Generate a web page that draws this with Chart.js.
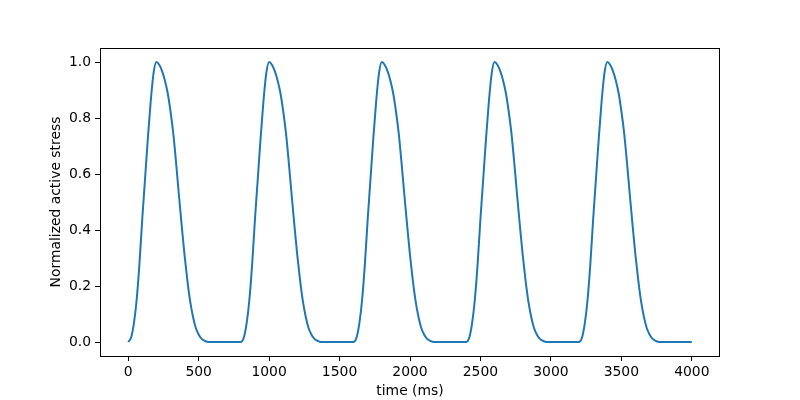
<!DOCTYPE html>
<html>
<head>
<meta charset="utf-8">
<script src="https://cdn.jsdelivr.net/npm/chart.js@4/dist/chart.umd.min.js"></script>
<style>
  html, body { margin: 0; padding: 0; background: #fff; }
  #c { display: block; }
</style>
</head>
<body>
<canvas id="c" width="800" height="400"></canvas>
<script>
// Sample spacing of the readings (ms)
const timeStepMs = 20;

// Normalized active stress, one array per beat (800 ms each, 20 ms apart)
const beat1 = [0.000,0.015,0.065,0.150,0.280,0.440,0.585,0.730,0.860,0.960,1.000,0.990,0.968,0.935,0.890,0.825,0.745,0.640,0.525,0.415,
               0.310,0.220,0.145,0.090,0.050,0.027,0.012,0.005,0.001,0.000,0.000,0.000,0.000,0.000,0.000,0.000,0.000,0.000,0.000,0.000];
const beat2 = [0.000,0.015,0.065,0.150,0.280,0.440,0.585,0.730,0.860,0.960,1.000,0.990,0.968,0.935,0.890,0.825,0.745,0.640,0.525,0.415,
               0.310,0.220,0.145,0.090,0.050,0.027,0.012,0.005,0.001,0.000,0.000,0.000,0.000,0.000,0.000,0.000,0.000,0.000,0.000,0.000];
const beat3 = [0.000,0.015,0.065,0.150,0.280,0.440,0.585,0.730,0.860,0.960,1.000,0.990,0.968,0.935,0.890,0.825,0.745,0.640,0.525,0.415,
               0.310,0.220,0.145,0.090,0.050,0.027,0.012,0.005,0.001,0.000,0.000,0.000,0.000,0.000,0.000,0.000,0.000,0.000,0.000,0.000];
const beat4 = [0.000,0.015,0.065,0.150,0.280,0.440,0.585,0.730,0.860,0.960,1.000,0.990,0.968,0.935,0.890,0.825,0.745,0.640,0.525,0.415,
               0.310,0.220,0.145,0.090,0.050,0.027,0.012,0.005,0.001,0.000,0.000,0.000,0.000,0.000,0.000,0.000,0.000,0.000,0.000,0.000];
const beat5 = [0.000,0.015,0.065,0.150,0.280,0.440,0.585,0.730,0.860,0.960,1.000,0.990,0.968,0.935,0.890,0.825,0.745,0.640,0.525,0.415,
               0.310,0.220,0.145,0.090,0.050,0.027,0.012,0.005,0.001,0.000,0.000,0.000,0.000,0.000,0.000,0.000,0.000,0.000,0.000,0.000];
const finalValue = [0.000];

// Tick labels
const xTicks = [0, 500, 1000, 1500, 2000, 2500, 3000, 3500, 4000];
const yTicks = [0.0, 0.2, 0.4, 0.6, 0.8, 1.0];

const stress = [].concat(beat1, beat2, beat3, beat4, beat5, finalValue);
const points = stress.map((v, i) => ({ x: i * timeStepMs, y: v }));

const FONT = { family: "'DejaVu Sans', sans-serif", size: 13.9 };

const frame = {
  id: 'frame',
  afterDraw(chart) {
    const a = chart.chartArea, ctx = chart.ctx;
    ctx.save();
    ctx.strokeStyle = '#000';
    ctx.lineWidth = 1;
    ctx.strokeRect(Math.round(a.left) + 0.5, Math.round(a.top) + 0.5,
                   Math.round(a.right - a.left) - 1, Math.round(a.bottom - a.top));
    ctx.restore();
  }
};

new Chart(document.getElementById('c'), {
  type: 'line',
  data: {
    datasets: [{
      data: points,
      borderColor: '#1f77b4',
      borderWidth: 2,
      pointRadius: 0,
      cubicInterpolationMode: 'monotone',
      fill: false
    }]
  },
  options: {
    responsive: false,
    animation: false,
    layout: { padding: { left: 0, top: 48, right: 80, bottom: 0 } },
    plugins: { legend: { display: false }, tooltip: { enabled: false } },
    scales: {
      x: {
        type: 'linear',
        min: -200, max: 4200,
        afterBuildTicks: s => { s.ticks = xTicks.map(v => ({ value: v })); },
        afterFit: s => { s.height = 44; },
        border: { display: false },
        grid: { drawOnChartArea: false, drawTicks: true, tickLength: 5, tickColor: '#000' },
        ticks: { color: '#000', font: FONT, padding: 3, maxRotation: 0, autoSkip: false,
                 callback: v => String(v) },
        title: { display: true, text: 'time (ms)', color: '#000', font: FONT, padding: 0 }
      },
      y: {
        type: 'linear',
        min: -0.05, max: 1.05,
        afterBuildTicks: s => { s.ticks = yTicks.map(v => ({ value: v })); },
        afterFit: s => { s.width = 100; },
        border: { display: false },
        grid: { drawOnChartArea: false, drawTicks: true, tickLength: 5, tickColor: '#000' },
        ticks: { color: '#000', font: FONT, padding: 4, autoSkip: false,
                 callback: v => Number(v).toFixed(1) },
        title: { display: true, text: 'Normalized active stress', color: '#000', font: FONT,
                 padding: { top: 48, bottom: 0 } }
      }
    }
  },
  plugins: [frame]
});
</script>
</body>
</html>
